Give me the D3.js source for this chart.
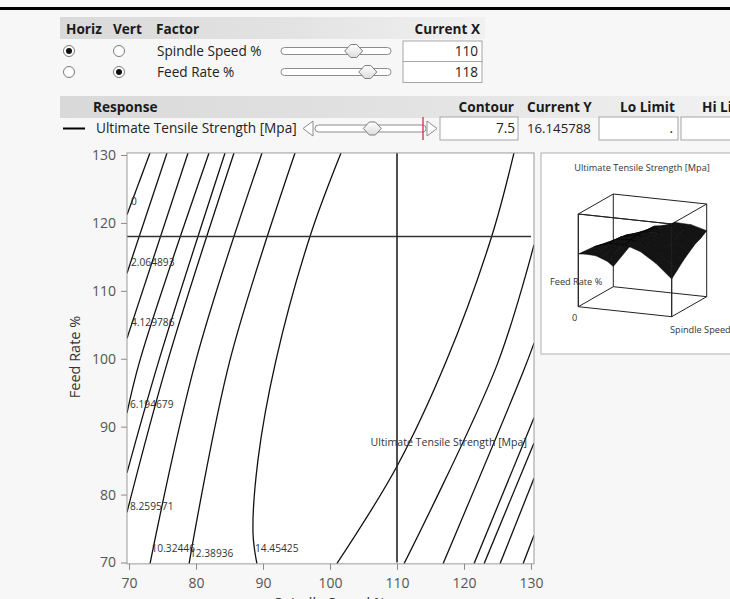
<!DOCTYPE html>
<html>
<head>
<meta charset="utf-8">
<title>Contour Profiler</title>
<script src="https://cdn.jsdelivr.net/npm/d3@7/dist/d3.min.js"></script>
<style>
  html, body { margin: 0; padding: 0; background: #f7f7f7; }
  svg { display: block; }
  text { font-family: "Open Sans", "Noto Sans", sans-serif; }
</style>
</head>
<body>
<svg id="profiler" width="730" height="599"></svg>
<script>
// ---- factor settings ----
const factorNames   = ["Spindle Speed %", "Feed Rate %"];
const factorValues  = [110, 118];
const factorLimits  = [70, 130];
const horizSelected = [true, false];
const vertSelected  = [false, true];

// ---- response settings ----
const responseName   = "Ultimate Tensile Strength [Mpa]";
const contourValue   = 7.5;
const currentY       = "16.145788";
const responseLimits = [0, 14.5];

// ---- axes ----
const xTicks = [70, 80, 90, 100, 110, 120, 130];
const yTicks = [70, 80, 90, 100, 110, 120, 130];
const xTitle = "Spindle Speed %";
const yTitle = "Feed Rate %";

// ---- contour traces, points are [Spindle Speed %, Feed Rate %] ----
const contour0     = [[73.13,130.3],[69.7,121.2]];
const contour2_06  = [[75.67,130.3],[69.7,112.6]];
const contour4_13  = [[78.81,130.3],[69.7,103.0]];
const contour6_19  = [[81.94,130.3],[71.64,99.8],[69.7,92.0]];
const contour7_5   = [[84.33,130.3],[74.48,99.8],[69.7,83.2]];
const contour8_26  = [[85.67,130.3],[75.82,99.8],[69.7,77.4]];
const contour10_32 = [[89.85,130.3],[80.0,99.8],[73.13,69.8]];
const contour12_39 = [[94.78,130.3],[85.07,99.8],[78.96,69.8]];
const contour14_45 = [[101.64,130.3],[97.01,118.0],[91.94,99.8],[89.25,85.1],[88.51,74.3],[89.1,69.8]];
// right-hand side of the ridge
const contour14_45b = [[127.46,130.3],[124.13,118.0],[117.42,99.8],[109.96,84.1],[101.0,69.8]];
const contour12_39b = [[130.45,116.8],[124.93,99.1],[111.04,69.8]];
const contour10_32b = [[130.45,102.3],[128.8,98.0],[116.87,69.8]];
const contour8_26b  = [[130.45,91.3],[121.49,69.8]];
const contour7_5b   = [[130.45,87.6],[122.99,69.8]];
const contour6_19b  = [[130.45,82.4],[125.37,69.8]];
const contour4_13b  = [[130.45,74.0],[128.81,69.8]];

const contourTraces = [contour0, contour2_06, contour4_13, contour6_19, contour7_5, contour8_26,
  contour10_32, contour12_39, contour14_45, contour14_45b, contour12_39b, contour10_32b,
  contour8_26b, contour7_5b, contour6_19b, contour4_13b];

// level labels and where they sit, [Spindle Speed %, Feed Rate %]
const levelLabels  = ["0","2.064893","4.129786","6.194679","8.259571","10.32446","12.38936","14.45425"];
const levelLabelAt = [[70.3,123.2],[70.3,114.2],[70.3,105.3],[70.15,93.3],[70.15,78.2],[73.36,72.1],[79.1,71.4],[88.81,72.1]];
const responseLabelAt = [129.4, 87.7];

// ---- surface thumbnail: response read on a grid ----
const surfaceSpindle = [70, 80, 90, 100, 110, 120, 130];
const surfaceFeed    = [70, 80, 90, 100, 110, 120, 130];
const surfaceZ = [
  [ 9.3, 12.6, 14.5, 14.6, 12.6,  8.9,  3.8],   // feed 70
  [ 8.1, 12.0, 14.6, 15.1, 13.8, 10.8,  6.0],   // feed 80
  [ 6.6, 11.2, 14.4, 15.6, 15.0, 12.5,  8.2],   // feed 90
  [ 5.0, 10.3, 13.9, 15.6, 16.0, 13.8, 10.0],   // feed 100
  [ 2.8,  8.7, 12.9, 15.3, 16.2, 14.8, 11.7],   // feed 110
  [ 0.5,  7.0, 11.8, 15.2, 16.1, 15.6, 12.7],   // feed 120
  [-2.6,  5.0, 10.4, 14.0, 16.0, 15.8, 14.2]    // feed 130
];
const surfaceZRange = [-10, 24];

const svg = d3.select("#profiler");
const W = 730, H = 599;
const defs = svg.append("defs");

const hdr = defs.append("linearGradient").attr("id", "hdrGrad").attr("x1", 0).attr("x2", 1).attr("y1", 0).attr("y2", 0);
hdr.append("stop").attr("offset", 0).attr("stop-color", "#d9d9d9");
hdr.append("stop").attr("offset", 0.55).attr("stop-color", "#e3e3e3");
hdr.append("stop").attr("offset", 1).attr("stop-color", "#f1f1f1");

const knob = defs.append("linearGradient").attr("id", "knobGrad").attr("x1", 0).attr("x2", 0).attr("y1", 0).attr("y2", 1);
knob.append("stop").attr("offset", 0).attr("stop-color", "#ffffff");
knob.append("stop").attr("offset", 1).attr("stop-color", "#dcdcdc");

svg.append("rect").attr("width", W).attr("height", H).attr("fill", "#f7f7f7");

// top rule
svg.append("rect").attr("x", 0).attr("y", 7).attr("width", W).attr("height", 3).attr("fill", "#000");

const UI = 13.6;   // body text size

// ================= factor table =================
svg.append("rect").attr("x", 60).attr("y", 17).attr("width", 425).attr("height", 22).attr("fill", "url(#hdrGrad)");
const hdrText = (x, y, t, anchor) => svg.append("text").attr("x", x).attr("y", y).attr("dy", "0.35em")
  .attr("text-anchor", anchor || "start").attr("font-size", 13.6).attr("font-weight", 700).attr("fill", "#1a1a1a").text(t);
hdrText(66, 29, "Horiz");
hdrText(113, 29, "Vert");
hdrText(156, 29, "Factor");
hdrText(480, 29, "Current X", "end");

const rowY = [51, 72];
const sliderX = d3.scaleLinear().domain(factorLimits).range([283, 389]);

function radio(cx, cy, on) {
  svg.append("circle").attr("cx", cx).attr("cy", cy).attr("r", 5.5)
    .attr("fill", "#fff").attr("stroke", "#7a7a7a").attr("stroke-width", 1);
  if (on) svg.append("circle").attr("cx", cx).attr("cy", cy).attr("r", 3).attr("fill", "#111");
}

function thumb(cx, cy) {
  const p = d3.path();
  p.moveTo(cx - 9, cy); p.lineTo(cx - 3, cy - 6.5); p.lineTo(cx + 3, cy - 6.5);
  p.lineTo(cx + 9, cy); p.lineTo(cx + 3, cy + 6.5); p.lineTo(cx - 3, cy + 6.5); p.closePath();
  svg.append("path").attr("d", p.toString()).attr("fill", "url(#knobGrad)")
    .attr("stroke", "#7d7d7d").attr("stroke-linejoin", "round");
}

factorNames.forEach((name, i) => {
  const y = rowY[i];
  radio(69, y, horizSelected[i]);
  radio(119, y, vertSelected[i]);
  svg.append("text").attr("x", 157).attr("y", y).attr("dy", "0.35em").attr("font-size", UI)
    .attr("fill", "#222").text(name);
  svg.append("rect").attr("x", 281).attr("y", y - 3.5).attr("width", 110).attr("height", 7).attr("rx", 3.5)
    .attr("fill", "#fff").attr("stroke", "#8c8c8c");
  thumb(sliderX(factorValues[i]), y);
});
// value boxes
const boxTop = [41, 61.5], boxH = [20.5, 21];
factorValues.forEach((v, i) => {
  svg.append("rect").attr("x", 403).attr("y", boxTop[i]).attr("width", 79).attr("height", boxH[i])
    .attr("fill", "#fff").attr("stroke", "#a5a5a5");
  svg.append("text").attr("x", 478).attr("y", rowY[i]).attr("dy", "0.35em").attr("text-anchor", "end")
    .attr("font-size", UI).attr("fill", "#222").text(v);
});

// ================= response table =================
svg.append("rect").attr("x", 60).attr("y", 96).attr("width", 670).attr("height", 22).attr("fill", "url(#hdrGrad)");
hdrText(93, 107, "Response");
hdrText(514, 107, "Contour", "end");
hdrText(527, 107, "Current Y");
hdrText(620, 107, "Lo Limit");
hdrText(702, 107, "Hi Limit");

const ry = 128.5;
svg.append("line").attr("x1", 63).attr("x2", 85).attr("y1", ry).attr("y2", ry).attr("stroke", "#000").attr("stroke-width", 2);
svg.append("text").attr("x", 96).attr("y", ry).attr("dy", "0.35em").attr("font-size", UI).attr("fill", "#222").text(responseName);

const respX = d3.scaleLinear().domain(responseLimits).range([318, 423]).clamp(true);
// arrows at both ends of the contour slider
svg.append("path").attr("d", "M313,121 L303,128.5 L313,136 Z").attr("fill", "#fff").attr("stroke", "#8c8c8c");
svg.append("path").attr("d", "M427,121 L437,128.5 L427,136 Z").attr("fill", "#fff").attr("stroke", "#8c8c8c");
svg.append("rect").attr("x", 315).attr("y", ry - 3.5).attr("width", 111).attr("height", 7).attr("rx", 3.5)
  .attr("fill", "#fff").attr("stroke", "#8c8c8c");
thumb(respX(contourValue), ry);
svg.append("line").attr("x1", respX(+currentY)).attr("x2", respX(+currentY)).attr("y1", 117).attr("y2", 140)
  .attr("stroke", "#c8304a").attr("stroke-width", 1.3);

svg.append("rect").attr("x", 440).attr("y", 117).attr("width", 78).attr("height", 23).attr("fill", "#fff").attr("stroke", "#a5a5a5");
svg.append("text").attr("x", 515).attr("y", ry).attr("dy", "0.35em").attr("text-anchor", "end").attr("font-size", UI).attr("fill", "#222").text(contourValue);
svg.append("text").attr("x", 527).attr("y", ry).attr("dy", "0.35em").attr("font-size", 13.2).attr("fill", "#222").text(currentY);
svg.append("rect").attr("x", 599).attr("y", 117).attr("width", 79).attr("height", 23).attr("fill", "#fff").attr("stroke", "#a5a5a5");
svg.append("text").attr("x", 673).attr("y", ry).attr("dy", "0.35em").attr("text-anchor", "end").attr("font-size", UI).attr("fill", "#222").text(".");
svg.append("rect").attr("x", 681).attr("y", 117).attr("width", 60).attr("height", 23).attr("fill", "#fff").attr("stroke", "#a5a5a5");

// ================= contour plot =================
const x = d3.scaleLinear().domain([70, 130]).range([129, 531]);
const y = d3.scaleLinear().domain([70, 130]).range([562.5, 155]);
const frame = { x0: x(69.7), x1: x(130.45), y0: y(130.3), y1: y(69.8) };

svg.append("rect").attr("x", frame.x0).attr("y", frame.y0).attr("width", frame.x1 - frame.x0)
  .attr("height", frame.y1 - frame.y0).attr("fill", "#fff");

defs.append("clipPath").attr("id", "plotClip").append("rect")
  .attr("x", frame.x0).attr("y", frame.y0).attr("width", frame.x1 - frame.x0).attr("height", frame.y1 - frame.y0);

const yAxis = d3.axisLeft(y).tickValues(yTicks).tickSize(6).tickPadding(5);
const xAxis = d3.axisBottom(x).tickValues(xTicks).tickSize(6).tickPadding(8);
const gy = svg.append("g").attr("transform", `translate(${frame.x0},0)`).call(yAxis);
const gx = svg.append("g").attr("transform", `translate(0,${frame.y1})`).call(xAxis);
[gx, gy].forEach(g => {
  g.select(".domain").remove();
  g.selectAll("line").attr("stroke", "#8a8a8a");
  g.selectAll("text").attr("font-size", 14).attr("fill", "#555").attr("font-family", "\"Open Sans\", sans-serif");
});

svg.append("text").attr("transform", "translate(75,357) rotate(-90)").attr("text-anchor", "middle")
  .attr("dy", "0.35em").attr("font-size", 14.5).attr("fill", "#333").text(yTitle);
svg.append("text").attr("x", 330).attr("y", 608).attr("text-anchor", "middle")
  .attr("font-size", 14.5).attr("fill", "#333").text(xTitle);

const plot = svg.append("g").attr("clip-path", "url(#plotClip)");
const line = d3.line().x(d => x(d[0])).y(d => y(d[1])).curve(d3.curveCatmullRom.alpha(0.5));
plot.selectAll("path.contour").data(contourTraces).join("path").attr("class", "contour")
  .attr("d", line).attr("fill", "none").attr("stroke", "#111").attr("stroke-width", 1.3);

// crosshair at the current factor settings
plot.append("line").attr("x1", frame.x0).attr("x2", x(130)).attr("y1", y(factorValues[1])).attr("y2", y(factorValues[1]))
  .attr("stroke", "#333").attr("stroke-width", 1.6);
plot.append("line").attr("x1", x(factorValues[0])).attr("x2", x(factorValues[0])).attr("y1", frame.y0).attr("y2", y(70))
  .attr("stroke", "#222").attr("stroke-width", 1.6);

// level labels
levelLabels.forEach((t, i) => {
  svg.append("text").attr("x", x(levelLabelAt[i][0])).attr("y", y(levelLabelAt[i][1])).attr("dy", "0.35em")
    .attr("font-size", 10.2).attr("fill", "#333").text(t);
});
svg.append("text").attr("x", x(responseLabelAt[0])).attr("y", y(responseLabelAt[1])).attr("dy", "0.35em")
  .attr("text-anchor", "end").attr("font-size", 10.6).attr("fill", "#333").text(responseName);

svg.append("rect").attr("x", frame.x0).attr("y", frame.y0).attr("width", frame.x1 - frame.x0)
  .attr("height", frame.y1 - frame.y0).attr("fill", "none").attr("stroke", "#9a9a9a");

// ================= surface thumbnail =================
svg.append("rect").attr("x", 541).attr("y", 153).attr("width", 200).attr("height", 201)
  .attr("fill", "#fff").attr("stroke", "#b0b0b0");
svg.append("text").attr("x", 642).attr("y", 168).attr("dy", "0.35em").attr("text-anchor", "middle")
  .attr("font-size", 9.2).attr("fill", "#333").text(responseName);

// oblique projection of the unit cube (u: spindle, v: feed, w: response)
const O = [578.3, 306.7], eu = [93.4, 10], ev = [35, -20], ew = [0, -92.7];
const proj = (u, v, w) => [O[0] + u * eu[0] + v * ev[0] + w * ew[0], O[1] + u * eu[1] + v * ev[1] + w * ew[1]];
const uS = d3.scaleLinear().domain([70, 130]).range([0, 1]);
const vS = d3.scaleLinear().domain([70, 130]).range([0, 1]);
const wS = d3.scaleLinear().domain(surfaceZRange).range([0, 1]);

const cubeEdges = [
  [[0,0,0],[1,0,0]],[[1,0,0],[1,1,0]],[[1,1,0],[0,1,0]],[[0,1,0],[0,0,0]],
  [[0,0,1],[1,0,1]],[[1,0,1],[1,1,1]],[[1,1,1],[0,1,1]],[[0,1,1],[0,0,1]],
  [[0,0,0],[0,0,1]],[[1,0,0],[1,0,1]],[[1,1,0],[1,1,1]],[[0,1,0],[0,1,1]]
];
const inset = svg.append("g");
inset.selectAll("line.edge").data(cubeEdges).join("line").attr("class", "edge")
  .attr("x1", d => proj(...d[0])[0]).attr("y1", d => proj(...d[0])[1])
  .attr("x2", d => proj(...d[1])[0]).attr("y2", d => proj(...d[1])[1])
  .attr("stroke", "#222").attr("stroke-width", 1);

const quads = [];
for (let r = surfaceFeed.length - 2; r >= 0; r--) {
  for (let c = 0; c < surfaceSpindle.length - 1; c++) {
    const corners = [[r, c], [r, c + 1], [r + 1, c + 1], [r + 1, c]].map(([rr, cc]) =>
      proj(uS(surfaceSpindle[cc]), vS(surfaceFeed[rr]), wS(surfaceZ[rr][cc])));
    quads.push(corners);
  }
}
inset.selectAll("path.cell").data(quads).join("path").attr("class", "cell")
  .attr("d", d => "M" + d.map(p => p.join(",")).join("L") + "Z")
  .attr("fill", "#141414").attr("stroke", "#000").attr("stroke-width", 0.5).attr("stroke-linejoin", "round");

// front edges stay on top of the surface
[[[0,0,0],[0,0,1]],[[1,0,0],[1,0,1]],[[0,0,1],[1,0,1]]].forEach(d => {
  inset.append("line").attr("x1", proj(...d[0])[0]).attr("y1", proj(...d[0])[1])
    .attr("x2", proj(...d[1])[0]).attr("y2", proj(...d[1])[1]).attr("stroke", "#222");
});

inset.append("text").attr("x", 550).attr("y", 282).attr("dy", "0.35em").attr("font-size", 9.2).attr("fill", "#333").text(yTitle);
inset.append("text").attr("x", 572).attr("y", 318).attr("dy", "0.35em").attr("font-size", 9.2).attr("fill", "#333").text("0");
inset.append("text").attr("x", 670).attr("y", 330).attr("dy", "0.35em").attr("font-size", 9.2).attr("fill", "#333").text(xTitle);
</script>
</body>
</html>
